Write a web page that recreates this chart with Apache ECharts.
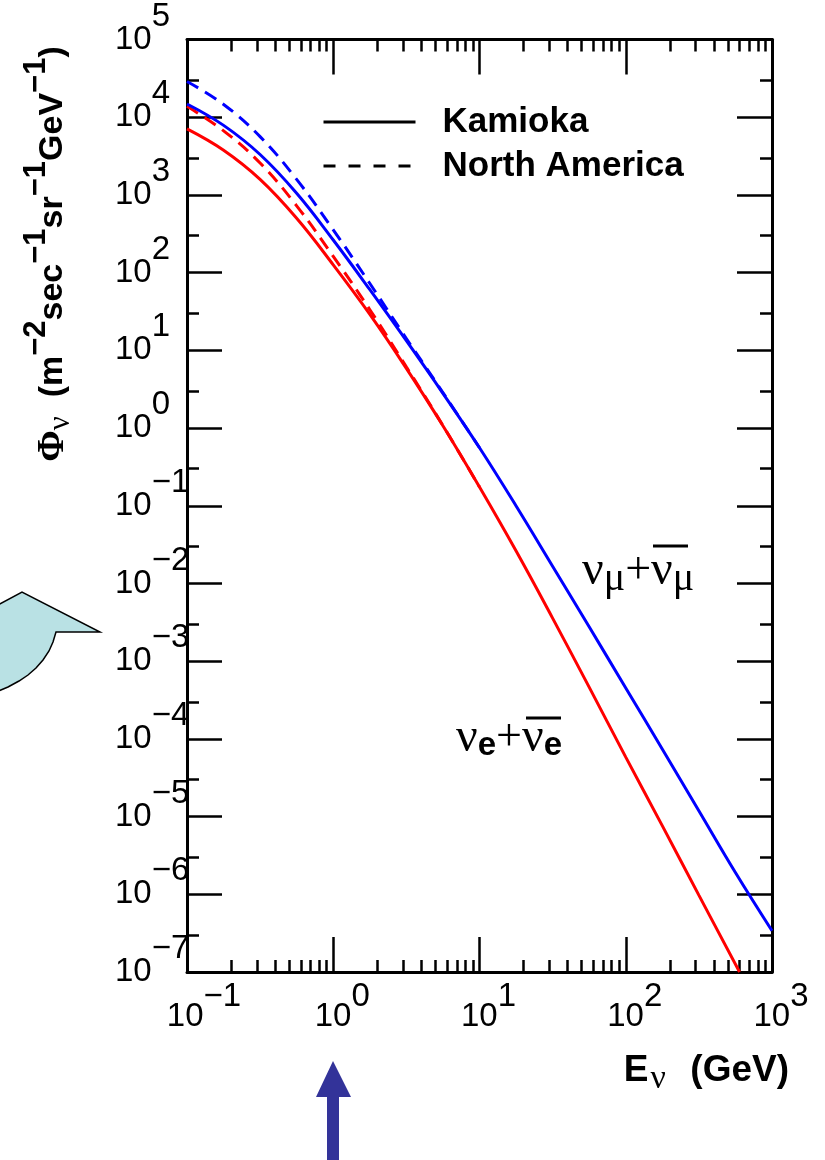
<!DOCTYPE html>
<html>
<head>
<meta charset="utf-8">
<script src="https://cdn.jsdelivr.net/npm/echarts@6/dist/echarts.min.js"></script>
<style>
html, body { margin: 0; padding: 0; background: #fff; }
#chart { width: 825px; height: 1160px; }
</style>
</head>
<body>
<div id="chart"></div>
<script>
// flux, E in GeV, flux in m^-2 sec^-1 sr^-1 GeV^-1
var energyGeV = [0.1, 0.178, 0.316, 0.562, 1, 1.78, 3.16, 5.62, 10, 17.8, 31.6, 56.2, 100, 178, 316, 562, 1000];
var numuKamioka = [14800, 7850, 3310, 1050, 263, 60.3, 13.3, 2.80, 0.558, 0.0993, 0.0167, 0.00277, 4.52e-4, 7.36e-5, 1.19e-5, 1.91e-6, 3.4e-7];

var nueEnergyGeV = [0.1, 0.178, 0.316, 0.562, 1, 1.78, 3.16, 5.62, 10, 17.8, 31.6, 56.2, 100, 178, 316, 600];
var nueKamioka = [7080, 3760, 1585, 501, 126, 29.0, 5.86, 1.07, 0.174, 0.0261, 0.00358, 4.63e-4, 5.83e-5, 7.59e-6, 9.77e-7, 1.0e-7];

var naEnergyGeV = [0.1, 0.178, 0.316, 0.562, 1, 1.78, 3.16, 5.62, 10];
var numuNorthAmerica = [28800, 14600, 5620, 1585, 355, 72.4, 14.2, 2.86, 0.558];
var nueNorthAmerica = [13800, 6680, 2570, 724, 162, 33.3, 6.14, 1.08, 0.174];

var xMajorTicks = [0.1, 1, 10, 100, 1000];
var yMajorTicks = [1e-7, 1e-6, 1e-5, 1e-4, 1e-3, 1e-2, 1e-1, 1, 10, 100, 1e3, 1e4, 1e5];
var yMinorTicks = [3e-7, 3e-6, 3e-5, 3e-4, 3e-3, 3e-2, 0.3, 3, 30, 300, 3e3, 3e4];
var xMinorTicks = [];
xMajorTicks.slice(0, -1).forEach(function (d) {
    for (var m = 2; m <= 9; m++) xMinorTicks.push(+(m * d).toPrecision(3));
});

var sans = '"Liberation Sans", Arial, sans-serif';
var serif = '"Liberation Serif", "Times New Roman", serif';

function pairs(xs, ys) {
    return xs.map(function (x, i) { return [x, ys[i]]; });
}
function expText(v) {
    var n = Math.round(Math.log10(v));
    return n < 0 ? '\u2212' + (-n) : String(n);
}

var tickStyle = { color: '#000', width: 2.5 };
var lineAxis = { show: true, onZero: false, lineStyle: { color: '#000', width: 3 } };

function logAxis(pos, min, max, ticks, len, showLine, label) {
    return {
        type: 'log', logBase: 10, position: pos, min: min, max: max,
        axisLine: showLine ? lineAxis : { show: false, onZero: false },
        axisTick: { show: true, inside: true, length: len, customValues: ticks, lineStyle: tickStyle },
        axisLabel: label || { show: false },
        splitLine: { show: false },
        minorTick: { show: false }
    };
}

// spacer in front of "10" keeps the "10" itself centred under the tick
var xLabel = {
    show: true, customValues: xMajorTicks, margin: 8,
    formatter: function (v) {
        var e = expText(v);
        return '{' + (e.length > 1 ? 'spn' : 'spp') + '|}{b|10}{s|' + e + '}';
    },
    rich: {
        spn: { width: 34 },
        spp: { width: 18 },
        b: { fontFamily: sans, fontSize: 33, color: '#000' },
        s: { fontFamily: sans, fontSize: 33, color: '#000', padding: [0, 0, 40, 0] }
    }
};
var yLabel = {
    show: true, customValues: yMajorTicks, margin: 72, align: 'left',
    formatter: function (v) { return '{b|10}{s|' + expText(v) + '}'; },
    rich: {
        b: { fontFamily: sans, fontSize: 33, color: '#000' },
        s: { fontFamily: sans, fontSize: 33, color: '#000', padding: [0, 0, 46, 0] }
    }
};

var chart = echarts.init(document.getElementById('chart'));

var option = {
    animation: false,
    backgroundColor: '#fff',
    grid: { left: 187, right: 53, top: 37, bottom: 188 },
    legend: {
        orient: 'vertical', left: 322, top: 104, padding: 0,
        itemWidth: 92, itemHeight: 20, itemGap: 8,
        selectedMode: false,
        data: ['Kamioka', 'North America'],
        itemStyle: { opacity: 0 },
        lineStyle: { width: 3 },
        textStyle: { fontFamily: sans, fontWeight: 'bold', fontSize: 35, lineHeight: 36, color: '#000', padding: [0, 0, 0, 22] }
    },
    xAxis: [
        Object.assign(logAxis('bottom', 0.1, 1000, xMajorTicks, 35, true, xLabel), {
            name: '{b|E}{nu|\u03bd}{b|  (GeV)}',
            nameLocation: 'end', nameGap: 17,
            nameTextStyle: {
                align: 'right', verticalAlign: 'top', padding: [74, 0, 0, 0],
                rich: {
                    b: { fontFamily: sans, fontWeight: 'bold', fontSize: 37, color: '#000' },
                    nu: { fontFamily: serif, fontSize: 34, color: '#000', padding: [16, 4, 0, 2] }
                }
            }
        }),
        logAxis('bottom', 0.1, 1000, xMinorTicks, 12, false),
        logAxis('top', 0.1, 1000, xMajorTicks, 35, true),
        logAxis('top', 0.1, 1000, xMinorTicks, 12, false)
    ],
    yAxis: [
        logAxis('left', 1e-7, 1e5, yMajorTicks, 35, true, yLabel),
        logAxis('left', 1e-7, 1e5, yMinorTicks, 12, false),
        logAxis('right', 1e-7, 1e5, yMajorTicks, 35, true),
        logAxis('right', 1e-7, 1e5, yMinorTicks, 12, false)
    ],
    series: [
        { name: 'numu North America', type: 'line', data: pairs(naEnergyGeV, numuNorthAmerica), smooth: 0.4, symbol: 'none',
          lineStyle: { color: '#0000ff', width: 3, type: [13, 8] } },
        { name: 'nue North America', type: 'line', data: pairs(naEnergyGeV, nueNorthAmerica), smooth: 0.4, symbol: 'none',
          lineStyle: { color: '#ff0000', width: 3, type: [13, 8] } },
        { name: 'numu Kamioka', type: 'line', data: pairs(energyGeV, numuKamioka), smooth: 0.4, symbol: 'none',
          lineStyle: { color: '#0000ff', width: 3 } },
        { name: 'nue Kamioka', type: 'line', data: pairs(nueEnergyGeV, nueKamioka), smooth: 0.4, symbol: 'none',
          lineStyle: { color: '#ff0000', width: 3 } },
        // legend keys only
        { name: 'Kamioka', type: 'line', data: [], symbol: 'none', itemStyle: { color: '#000' },
          lineStyle: { color: '#000', width: 3 } },
        { name: 'North America', type: 'line', data: [], symbol: 'none', itemStyle: { color: '#000' },
          lineStyle: { color: '#000', width: 3, type: [12, 13] } }
    ],
    graphic: [
        {
            type: 'text', x: 53, y: 254, rotation: Math.PI / 2,
            style: {
                text: '{phi|\u03a6}{sub|\u03bd}{t|  (m}{sup|\u22122}{t|sec}{sup|\u22121}{t|sr}{sup|\u22121}{t|GeV}{sup|\u22121}{t|)}',
                align: 'center', verticalAlign: 'middle',
                rich: {
                    phi: { fontFamily: serif, fontWeight: 'bold', fontSize: 38, fill: '#000' },
                    sub: { fontFamily: serif, fontSize: 31, fill: '#000', padding: [16, 0, 0, 0] },
                    t: { fontFamily: sans, fontWeight: 'bold', fontSize: 34, fill: '#000' },
                    sup: { fontFamily: sans, fontWeight: 'bold', fontSize: 31, fill: '#000', padding: [0, 0, 34, 0] }
                }
            }
        },
        {
            type: 'text', x: 582, y: 571,
            style: {
                text: '{n|\u03bd}{s|\u03bc}{p|+}{n|\u03bd}{s|\u03bc}',
                align: 'left', verticalAlign: 'middle',
                rich: {
                    n: { fontFamily: serif, fontSize: 48, fill: '#000' },
                    p: { fontFamily: serif, fontSize: 46, fill: '#000' },
                    s: { fontFamily: serif, fontSize: 40, fill: '#000', padding: [16, 0, 0, 0] }
                }
            }
        },
        { type: 'line', shape: { x1: 653, y1: 546, x2: 688, y2: 546 }, style: { stroke: '#000', lineWidth: 3 } },
        {
            type: 'text', x: 456, y: 738,
            style: {
                text: '{n|\u03bd}{e|e}{p|+}{n|\u03bd}{e|e}',
                align: 'left', verticalAlign: 'middle',
                rich: {
                    n: { fontFamily: serif, fontSize: 48, fill: '#000' },
                    p: { fontFamily: serif, fontSize: 46, fill: '#000' },
                    e: { fontFamily: sans, fontWeight: 'bold', fontSize: 33, fill: '#000', padding: [16, 0, 0, 0] }
                }
            }
        },
        { type: 'line', shape: { x1: 526, y1: 718, x2: 561, y2: 718 }, style: { stroke: '#000', lineWidth: 3 } },
        {
            type: 'polygon',
            shape: { points: [[-4, 606], [22, 592], [100, 632], [56, 632], [53, 642], [49, 651], [43, 660], [36, 668], [28, 675], [19, 681], [8, 687], [-4, 692]] },
            style: { fill: '#b9e1e4', stroke: '#000', lineWidth: 1.5 }
        },
        {
            type: 'polygon',
            shape: { points: [[327, 1160], [327, 1097], [316, 1097], [333, 1061], [351, 1097], [339, 1097], [339, 1160]] },
            style: { fill: '#333399' }
        }
    ]
};

chart.setOption(option);
</script>
</body>
</html>
